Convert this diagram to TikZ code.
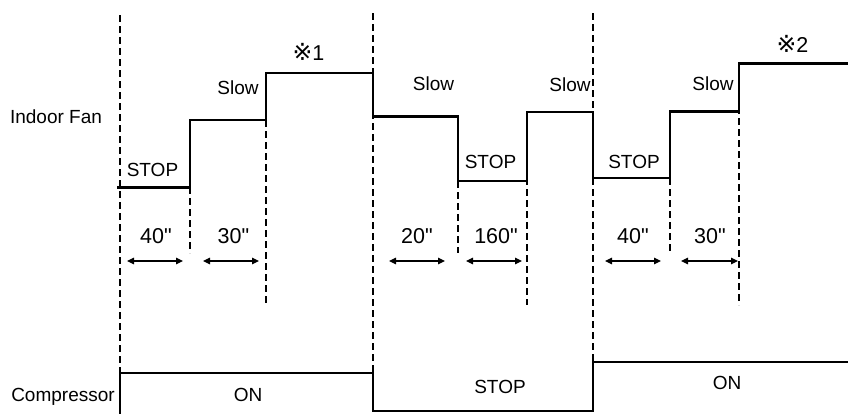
\documentclass[tikz,border=0pt]{standalone}
\usepackage{fontspec}
\setmainfont{Liberation Sans}[Ligatures=TeXOff]
\newfontfamily\symfont{DejaVu Sans}[Scale=1.1]
\usetikzlibrary{arrows.meta}
\begin{document}
\begin{tikzpicture}[x=1pt,y=-1pt,
  lbl/.style={inner sep=0pt,font=\fontsize{19}{19}\selectfont,text height=13.5pt,text depth=0pt},
  num/.style={inner sep=0pt,font=\fontsize{21.5}{21.5}\selectfont,text height=15.5pt,text depth=0pt},
  guide/.style={line width=1.2pt,dash pattern=on 7pt off 4pt},
  level/.style={line width=2.9pt,line join=miter},
  span/.style={line width=1.2pt,{Triangle[length=7pt,width=6.5pt]}-{Triangle[length=7pt,width=6.5pt]}}]
\useasboundingbox (0,0) rectangle (848,413);
% guide lines
\coordinate (g1t) at (120,15);  \coordinate (g1b) at (120,373);
\coordinate (g2t) at (190,187); \coordinate (g2b) at (190,253);
\coordinate (g3t) at (266,120); \coordinate (g3b) at (266,305);
\coordinate (g4t) at (373,13);  \coordinate (g4b) at (373,373);
\coordinate (g5t) at (458,181); \coordinate (g5b) at (458,253);
\coordinate (g6t) at (527,112); \coordinate (g6b) at (527,305);
\coordinate (g7t) at (593,13);  \coordinate (g7b) at (593,362);
\coordinate (g8t) at (670,178); \coordinate (g8b) at (670,253);
\coordinate (g9t) at (739,63);  \coordinate (g9b) at (739,305);
\foreach \i in {1,...,9} \draw[guide] (g\i t) -- (g\i b);
% indoor fan levels
\draw[level] (117,187.5) -- (190,187.5) -- (190,120) -- (266,120) -- (266,73)
  -- (373,73) -- (373,116.5) -- (458,116.5) -- (458,181) -- (527,181) -- (527,112)
  -- (593,112) -- (593,178) -- (670,178) -- (670,111.5) -- (739,111.5) -- (739,63.5) -- (850,63.5);
% compressor levels
\draw[level] (120,420) -- (120,373) -- (373,373) -- (373,411) -- (593,411) -- (593,362) -- (850,362);
% labels
\node[lbl] (fan) at (56,117) {Indoor Fan};
\node[lbl] (s1) at (152.5,170) {STOP};
\node[lbl] (w1) at (238,88) {Slow};
\node[num] (m1) at (308.5,53) {{\symfont ※}1};
\node[lbl] (w2) at (433.5,84) {Slow};
\node[lbl] (s2) at (490.5,162) {STOP};
\node[lbl] (w3) at (570,85) {Slow};
\node[lbl] (s3) at (634,162) {STOP};
\node[lbl] (w4) at (713,84) {Slow};
\node[num] (m2) at (792.5,45) {{\symfont ※}2};
\node[num] (t1) at (156,236) {40"};
\node[num] (t2) at (233.5,236) {30"};
\node[num] (t3) at (417,236) {20"};
\node[num] (t4) at (496,236) {160"};
\node[num] (t5) at (633,236) {40"};
\node[num] (t6) at (710,236) {30"};
\node[lbl] (comp) at (63,395) {Compressor};
\node[lbl] (on1) at (248,395) {ON};
\node[lbl] (cs) at (500,387) {STOP};
\node[lbl] (on2) at (727,383) {ON};
% duration arrows
\coordinate (a1l) at (127,261); \coordinate (a1r) at (183,261);
\coordinate (a2l) at (203,261); \coordinate (a2r) at (259,261);
\coordinate (a3l) at (389,261); \coordinate (a3r) at (445,261);
\coordinate (a4l) at (466,261); \coordinate (a4r) at (522,261);
\coordinate (a5l) at (605,261); \coordinate (a5r) at (661,261);
\coordinate (a6l) at (681,261); \coordinate (a6r) at (738,261);
\foreach \i in {1,...,6} \draw[span] (a\i l) -- (a\i r);
\end{tikzpicture}
\end{document}
